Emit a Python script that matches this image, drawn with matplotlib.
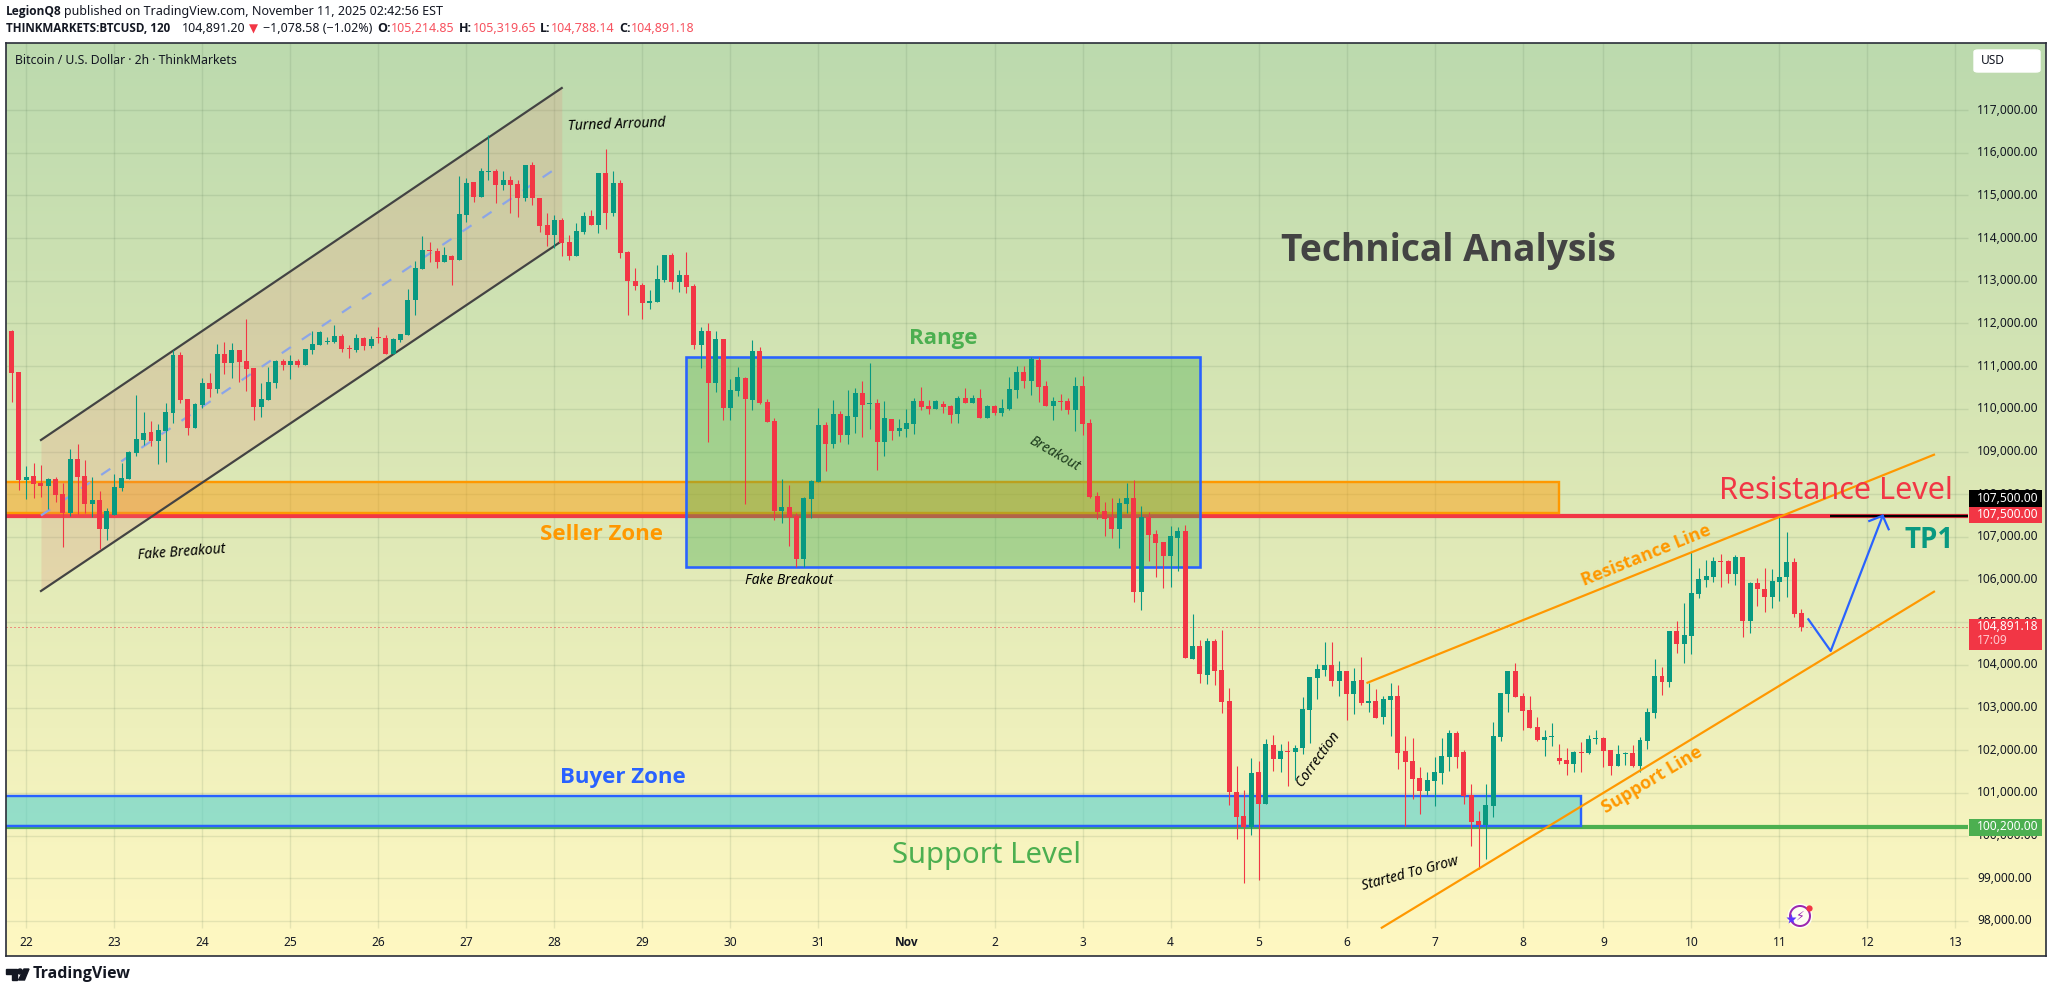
import numpy as np
import matplotlib
matplotlib.use("Agg")
import matplotlib.pyplot as plt
from matplotlib.colors import LinearSegmentedColormap
from matplotlib.patches import Rectangle, FancyBboxPatch, Polygon, Circle

plt.rcParams['font.family'] = ['Noto Sans', 'DejaVu Sans']
BOLD = ['Open Sans', 'DejaVu Sans']

#
# Candles. Bar 0 is the first bar of Oct 22, 12 bars per day
#
opens = [111824, 110864,
    108333,108427,108263,108193,108357,108005,107560,108825,108427,107771,107865,107185,
    107513,108146,108357,108966,109270,109458,109247,109481,109903,111262,110231,109552,
    110090,110606,110465,111285,111075,111379,111121,110957,110044,110208,110606,111121,
    111028,111121,111028,111379,111496,111567,111567,111707,111426,111378,111659,111472,
    111683,111659,111284,111612,111730,112550,113276,113721,113698,113440,113581,113487,
    114541,115314,114963,115549,115572,115244,115361,115267,114939,115713,114939,114307,
    114073,114424,113909,113581,114143,114518,114307,115525,114588,115291,113674,112995,
    112901,112479,112503,113018,113604,112971,113135,112878,111496,111824,110614,111637,
    110020,110418,110723,110208,111356,110161,109716,107607,107701,107490,106482,107888,
    108286,109622,109177,109880,109388,109809,110372,110114,110137,109224,109762,109481,
    109528,109645,110184,110067,109997,110114,110067,109880,110254,110137,110254,109786,
    110067,109903,109997,110442,110864,110653,111145,110536,110067,110184,110184,109973,
    110536,109669,107958,107607,107466,107185,107771,107911,105709,107466,107068,106880,
    106553,106974,107138,104139,104443,103764,104560,103881,103155,101022,100460,100202,
    101491,100741,102124,101796,101983,101960,102053,102944,103693,103881,103998,103623,
    103857,103319,103647,103108,103155,102780,103178,103272,101983,101749,101350,101046,
    101280,101468,101843,102405,101960,100952,100343,100249,100694,102311,103319,103857,
    103272,102944,102545,102241,102311,101819,101772,101678,101960,101936,102264,102288,
    102006,101632,101913,101936,101632,102218,102874,103740,103600,104795,104490,104678,
    105662,105990,106060,106435,106435,106130,106529,105029,105920,105779,105592,105943,
    106060,106412,105215]
highs = [111848, 110864,
    108661,108724,108685,108380,108404,108263,109060,109177,108802,108404,108076,107677,
    108474,108732,109013,110325,109926,109716,109645,110137,111379,111332,110231,110137,
    110723,110840,111520,111567,111543,111379,112105,110957,110606,110981,111145,111168,
    111262,111168,111403,111824,111824,111684,111965,111754,111496,111753,111683,111706,
    111917,111730,111659,111753,112807,113463,114049,113909,113768,113791,113604,115455,
    115408,115314,115642,116416,115619,115572,115455,115361,115713,115783,114939,114588,
    114541,114471,114073,114354,114611,114658,115525,116088,115572,115361,113698,113299,
    112948,112784,113370,113604,113651,113253,113674,112925,111918,112012,111824,111637,
    110700,110981,110747,111613,111449,110231,109786,108357,108216,107552,107935,108333,
    110020,109692,110208,109950,110442,110489,110653,111075,110231,110184,109762,109762,
    109997,110254,110512,110208,110208,110184,110090,110301,110489,110325,110465,110090,
    110090,110231,110747,111004,111004,111215,111215,110653,110278,110348,110254,110747,
    110770,109762,108052,107818,107911,107911,108263,108333,107724,107583,107162,106880,
    107255,107232,107279,105193,104584,104631,104607,104818,103459,101632,101069,101819,
    101749,102264,102358,102147,102217,102124,103248,103717,104021,104537,104537,104092,
    103857,103928,104186,103576,103436,103272,103576,103529,102335,102288,101608,101491,
    101842,102288,102475,102452,102006,101210,100577,101210,102662,103342,103857,104045,
    103342,103272,102780,102475,102639,102147,102053,101983,102194,102358,102475,102311,
    102006,102124,101960,102124,102311,102991,104139,103951,104795,105029,105451,106646,
    106271,106458,106529,106599,106458,106576,106529,105943,106037,106271,106248,107489,
    107114,106505,105320]
lows = [110169, 108099,
    107888,107911,107935,107654,107818,106763,107490,107537,107560,107466,106709,106927,
    107513,108076,108357,108896,109153,109130,108708,108755,109669,110137,109388,109552,
    110020,110278,110372,110817,110723,110629,110418,109739,109809,110208,110489,110910,
    110700,110981,111028,111285,111496,111520,111543,111332,111192,111331,111378,111425,
    111542,111284,111284,111566,111730,112198,113276,113440,113299,113440,112901,113487,
    114377,114846,114963,115361,114822,115127,114588,114494,114869,114775,114143,113815,
    113768,113581,113487,113581,114096,114307,114119,114213,114518,113534,112198,112784,
    112104,112339,112503,112971,112807,112737,112714,111402,110957,109224,110395,109739,
    109739,110301,107771,109973,110114,109692,107396,107326,106787,106295,106295,107443,
    108286,108544,109083,109224,109177,109434,109341,109528,108568,108896,109270,109364,
    109341,109411,109973,109880,109997,109903,109669,109669,110137,110137,109786,109786,
    109856,109833,109973,110254,110489,110325,110161,110067,109739,109973,109880,109481,
    109388,107911,107419,107021,106974,106740,107560,105475,105287,106435,106061,105803,
    105826,106201,104163,104139,103576,103553,103529,102873,100718,99921,98890,100015,
    98961,100741,101514,101491,101163,101304,101913,102170,103201,103740,103506,103272,
    102709,102850,103061,102897,102756,102616,102335,101561,100226,100858,100507,100952,
    100694,101210,101514,101585,100741,99757,99211,99453,100437,102217,102897,103248,
    102475,102522,102217,101866,102100,101678,101421,101491,101491,101913,102147,101608,
    101421,101632,101655,101608,101491,102030,102756,103295,103483,104279,104045,104256,
    105568,105826,105943,105826,105920,105873,104654,104748,105381,105240,105334,105498,
    105592,105123,104788]
closes = [110848, 108333,
    108404,108240,108193,108357,107982,107560,108825,108404,107771,107865,107185,107607,
    108169,108380,108989,109294,109434,109247,109505,109926,111262,110208,109552,110114,
    110606,110465,111285,111075,111379,111098,110934,110044,110231,110629,111121,111028,
    111121,111028,111403,111520,111801,111590,111707,111403,111403,111659,111472,111636,
    111659,111284,111636,111753,112550,113299,113721,113698,113440,113604,113487,114565,
    115291,114963,115572,115572,115244,115361,115244,114939,115713,114939,114283,114073,
    114424,113885,113581,114166,114518,114307,115525,114588,115291,113651,112995,112878,
    112479,112526,113042,113604,112971,113135,112854,111495,111824,110614,111637,110020,
    110442,110747,110231,111356,110137,109692,107607,107701,107466,106482,107911,108310,
    109622,109177,109880,109388,109833,110372,110090,110137,109224,109786,109481,109552,
    109669,110184,110044,109997,110184,110044,109856,110254,110137,110254,109786,110067,
    109903,110020,110465,110864,110653,111168,110512,110067,110184,110161,109973,110536,
    109645,107935,107583,107419,107185,107794,107911,105709,107466,107045,106857,106553,
    107021,107138,104163,104443,103787,104560,103857,103131,101022,100437,100202,101468,
    100741,102147,101796,101983,101960,102053,102967,103717,103904,103998,103623,103857,
    103319,103623,103108,103155,102756,103201,103272,101936,101725,101327,101046,101304,
    101491,101866,102405,101843,100929,100320,100249,100718,102335,103342,103857,103248,
    102920,102522,102241,102311,102335,101749,101678,101960,101936,102264,102288,101983,
    101632,101913,101936,101632,102241,102897,103740,103600,104795,104490,104701,105685,
    106013,106084,106435,106411,106130,106529,105029,105920,105779,105592,105966,106060,
    106412,105193,104891]

day_labels = ['22','23','24','25','26','27','28','29','30','31','Nov','2','3','4','5','6','7','8','9','10','11','12','13']
day_bars = [0,12,24,36,48,60,72,84,96,108,120,132,144,156,168,180,192,204,215,227,239,251,263]
price_ticks = list(range(98000, 118000, 1000))

# Drawings on the chart, in (bar, price)
channel_bars = [2, 73]
channel_upper = [109270, 117517]
channel_mid = [107501, 115725]
channel_lower = [105732, 113932]
seller_zone = [-4, 209, 107567, 108293]
buyer_zone = [-4, 212, 100226, 100929]
range_box = [90, 160, 106294, 111222]
res_line_bars, res_line_prices = [182.85, 260.08], [103583, 108925]
sup_line_bars, sup_line_prices = [184.8, 260.08], [97843, 105716]
path_bars, path_prices = [242.95, 246, 253.09], [105069, 104326, 107496]
head_bars, head_prices = [251.26, 253.09, 253.9], [107372, 107496, 107178]
resistance_level = 107500
support_level = 100200
last_price = 104891.18

W, H = 2053, 993
UP, DOWN = '#089981', '#f23645'
BLUE, ORANGE, GREEN = '#2962ff', '#ff9800', '#4caf50'
INK = '#131722'
PX = 0.72  # one pixel in points at dpi 100

fig = plt.figure(figsize=(W/100, H/100), dpi=100, facecolor='white')
# chart frame in pixels: 6..2046 across, 43..956 down
ax = fig.add_axes([6.2/W, 1-956/H, 2039.8/W, 913/H])
to_bar = lambda px: (px-26.3)/7.335
to_price = lambda py: 98000+(921-py)*23.43
ax.set_xlim(to_bar(6.2), to_bar(2046))
ax.set_ylim(to_price(956), to_price(43))
ax.set_xticks([])
ax.set_yticks([])
for s in ax.spines.values():
    s.set_color('#2a2e39')
    s.set_linewidth(1.2)

# background gradient
cmap = LinearSegmentedColormap.from_list('bg', ['#bcdaae', '#dde8b6', '#fff8c2'])
ax.imshow(np.linspace(0, 1, 256).reshape(-1, 1), cmap=cmap, aspect='auto', zorder=0,
          extent=[*ax.get_xlim(), ax.get_ylim()[0], ax.get_ylim()[1]], origin='upper')

# grid
grid_right, grid_bottom = to_bar(1968), to_price(928)
ax.hlines(price_ticks, ax.get_xlim()[0], grid_right, color='#4a6a4a', alpha=0.13, lw=1.1*PX*1.3, zorder=1)
ax.vlines(day_bars, grid_bottom, ax.get_ylim()[1], color='#4a6a4a', alpha=0.13, lw=1.1*PX*1.3, zorder=1)

# levels
ax.hlines(last_price, ax.get_xlim()[0], grid_right, color=DOWN, lw=1*PX, linestyles=(0, (1, 3)), zorder=1.5)
ax.hlines(resistance_level, ax.get_xlim()[0], grid_right, color=DOWN, lw=4.2*PX, zorder=2)
ax.hlines(support_level, ax.get_xlim()[0], grid_right, color=GREEN, lw=4.2*PX, zorder=2)
ax.hlines(resistance_level, to_bar(1830), grid_right, color='black', lw=2.4*PX, zorder=2.1)

# zones
def box(rng, face, alpha, edge, lw, z):
    x0, x1, y0, y1 = rng
    ax.add_patch(Rectangle((x0, y0), x1-x0, y1-y0, facecolor=matplotlib.colors.to_rgba(face, alpha),
                           edgecolor=edge, linewidth=lw*PX, zorder=z))

box(seller_zone, '#ff9800', 0.45, ORANGE, 2.4, 2.3)
box(buyer_zone, '#55d0cf', 0.6, BLUE, 2.4, 2.3)

# parallel channel
ax.fill_between(channel_bars, channel_lower, channel_upper, color='#e88273', alpha=0.2, lw=0, zorder=2.4)
ax.plot(channel_bars, channel_upper, color='#434343', lw=2.2*PX, zorder=2.5)
ax.plot(channel_bars, channel_lower, color='#434343', lw=2.2*PX, zorder=2.5)
ax.plot(channel_bars, channel_mid, color='#8ba5e8', lw=2.2*PX, ls=(0, (5, 6)), zorder=2.5)

box(range_box, GREEN, 0.38, BLUE, 2.6, 2.6)

# candles
bars = np.arange(-2, 243)
o, hi, lo, c = map(np.array, (opens, highs, lows, closes))
cols = np.where(c >= o, UP, DOWN)
ax.vlines(bars, lo, hi, colors=cols, lw=1.1*PX, zorder=3)
ax.bar(bars, np.maximum(np.abs(c-o), 25), bottom=np.minimum(o, c), width=0.68, color=cols, lw=0, zorder=3.1)

# trend lines and the projected path
ax.plot(res_line_bars, res_line_prices, color=ORANGE, lw=2.2*PX, zorder=3.5)
ax.plot(sup_line_bars, sup_line_prices, color=ORANGE, lw=2.2*PX, zorder=3.5)
ax.plot(path_bars, path_prices, color=BLUE, lw=2.2*PX, zorder=3.6)
ax.plot(head_bars, head_prices, color=BLUE, lw=2.2*PX, zorder=3.6)

# price scale and time scale
for p in price_ticks:
    ax.text(to_bar(1977), p, f'{p:,.2f}', color=INK, fontsize=8.6, va='center', ha='left', zorder=4)
for b, lab in zip(day_bars, day_labels):
    ax.text(b, to_price(942), lab, color=INK, fontsize=8.6, va='center', ha='center', zorder=4,
            family=BOLD if lab == 'Nov' else None, fontweight='bold' if lab == 'Nov' else 'normal')


def put(x, y, s, size=9, color=INK, ha='center', va='center', **kw):
    if kw.get('fontweight') == 'bold':
        kw['family'] = BOLD
    return fig.text(x/W, 1-y/H, s, fontsize=size, color=color, ha=ha, va=va, zorder=8, **kw)


def tag(x0, y0, x1, y1, color):
    fig.add_artist(Rectangle((x0/W, 1-y1/H), (x1-x0)/W, (y1-y0)/H, transform=fig.transFigure,
                             facecolor=color, edgecolor='none', zorder=6))


tag(1969, 490, 2042, 506.7, 'black')
tag(1969, 506.7, 2042, 523, DOWN)
tag(1969, 619, 2042, 650, DOWN)
tag(1969, 819, 2042, 835.7, GREEN)
put(1977, 498, '107,500.00', 8.6, 'white', ha='left')
put(1977, 515, '107,500.00', 8.6, 'white', ha='left')
put(1977, 627, '104,891.18', 8.6, 'white', ha='left')
put(1977, 640, '17:09', 8.6, '#ffc9ce', ha='left')
put(1977, 827, '100,200.00', 8.6, 'white', ha='left')

fig.add_artist(FancyBboxPatch((1974/W, 1-72/H), 66/W, 22/H, boxstyle='round,pad=0,rounding_size=0.002',
                              transform=fig.transFigure, facecolor='white', edgecolor='white', zorder=6))
put(1981, 61, 'USD', 8.6, ha='left')

# header
put(6, 12, 'LegionQ8', 8.6, ha='left', fontweight='bold')
put(64, 12, 'published on TradingView.com, November 11, 2025 02:42:56 EST', 9, ha='left')
put(6, 29, 'THINKMARKETS:BTCUSD, 120', 8.4, ha='left', fontweight='bold')
put(182, 29, '104,891.20', 9, ha='left')
put(249, 29, '▼', 8.5, DOWN, ha='left')
put(263, 29, '−1,078.58 (−1.02%)', 9, ha='left')
for lx, lab, vx, val in [(377, 'O:', 391, '105,214.85'), (459, 'H:', 473, '105,319.65'),
                         (540, 'L:', 551, '104,788.14'), (619, 'C:', 631, '104,891.18')]:
    put(lx, 29, lab, 9, ha='left', fontweight='bold')
    put(vx, 29, val, 9, '#f7525f', ha='left')
put(15, 60, 'Bitcoin / U.S. Dollar · 2h · ThinkMarkets', 8.8, ha='left')

# chart labels
put(1448, 251, 'Technical Analysis', 26.7, '#434343', fontweight='bold')
put(943, 339, 'Range', 16, GREEN, fontweight='bold')
put(602, 534, 'Seller Zone', 16, ORANGE, fontweight='bold')
put(623, 777, 'Buyer Zone', 16, BLUE, fontweight='bold')
put(987, 855, 'Support Level', 21, GREEN)
put(1836, 491, 'Resistance Level', 22, DOWN)
put(1929, 540, 'TP1', 20, UP, fontweight='bold')
put(1646, 555, 'Resistance Line', 13, ORANGE, fontweight='bold', rotation=22, rotation_mode='anchor')
put(1652, 780, 'Support Line', 13, ORANGE, fontweight='bold', rotation=31, rotation_mode='anchor')
put(617, 125, 'Turned Arround', 10, 'black', style='italic', rotation=2, rotation_mode='anchor')
put(182, 552, 'Fake Breakout', 10, 'black', style='italic', rotation=4, rotation_mode='anchor')
put(789, 580, 'Fake Breakout', 10, 'black', style='italic', rotation_mode='anchor')
put(1054, 454, 'Breakout', 10, '#1c3a1c', style='italic', rotation=-30, rotation_mode='anchor')
put(1318, 759, 'Correction', 10, 'black', style='italic', rotation=54, rotation_mode='anchor')
put(1410, 874, 'Started To Grow', 10, 'black', style='italic', rotation=15, rotation_mode='anchor')

# small assistant icon on the chart
ic = fig.add_axes([0, 0, 1, 1], facecolor='none', zorder=7)
ic.set_xlim(0, W)
ic.set_ylim(H, 0)
ic.axis('off')
ic.add_patch(Circle((1800, 916), 12.5, facecolor=(1, 1, 1, 0.8), edgecolor='none'))
ic.add_patch(Circle((1800, 916), 10, fill=False, edgecolor='#9c27b0', lw=2*PX))
ic.text(1800, 916, '⚡', fontsize=9, color='#9c27b0', ha='center', va='center', family='DejaVu Sans')
ic.plot([1790.7], [919], marker='*', ms=8, color='#5e35ff', mec='none')
ic.plot([1808.5], [908], marker='o', ms=4.5, color=DOWN, mec='none')

# TradingView logo
ic.add_patch(Polygon([(6, 969), (16.5, 969), (16.5, 980), (11.5, 980), (11.5, 974), (6, 974)], color='#131722'))
ic.add_patch(Circle((20, 971.5), 2.5, color='#131722'))
ic.add_patch(Polygon([(24, 969), (29, 969), (24.5, 980), (18.5, 980)], color='#131722'))
put(33, 974, 'TradingView', 11.5, '#131722', ha='left', fontweight='bold')

fig.savefig('out.png', dpi=100)
